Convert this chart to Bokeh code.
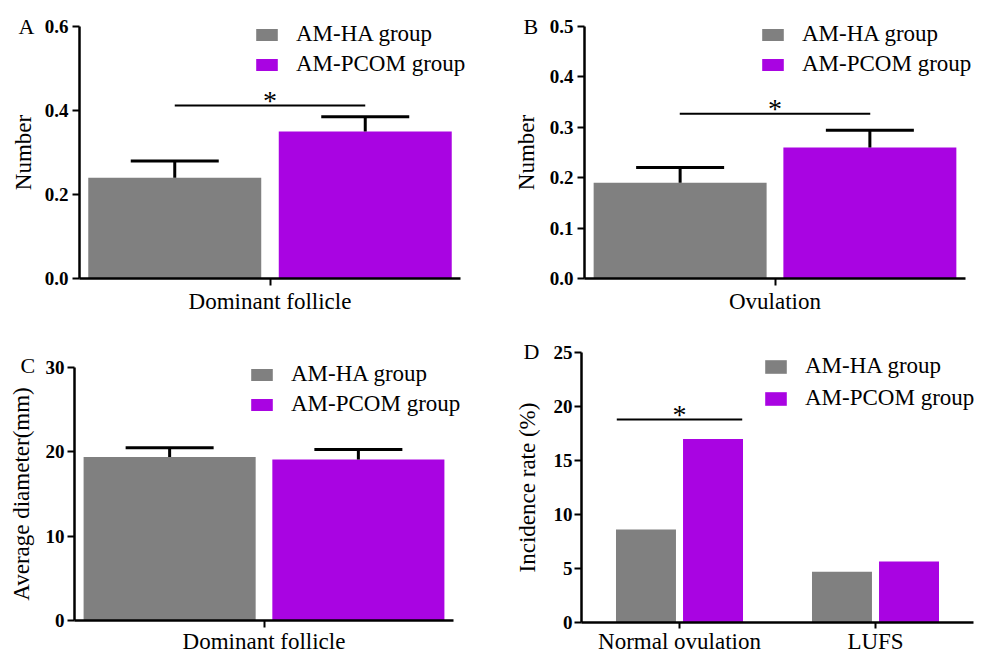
from bokeh.plotting import figure
from bokeh.models import (ColumnDataSource, Range1d, Whisker, TeeHead,
                          Label, Legend, LegendItem, FixedTicker, PrintfTickFormatter)
from bokeh.layouts import row, column
from bokeh.embed import file_html
from bokeh.resources import INLINE
from bokeh.core.properties import value

# ---------------- data ----------------
GROUPS = ["AM-HA group", "AM-PCOM group"]
COLORS = ["#808080", "#A904E2"]

# Panel A
a_cats = ["Dominant follicle"]
a_ha = [0.24]
a_pcom = [0.35]
a_ha_err = [0.04]
a_pcom_err = [0.035]
a_sig = [0.412]
a_ticks = [0.0, 0.2, 0.4, 0.6]

# Panel B
b_cats = ["Ovulation"]
b_ha = [0.19]
b_pcom = [0.26]
b_ha_err = [0.03]
b_pcom_err = [0.034]
b_sig = [0.327]
b_ticks = [0.0, 0.1, 0.2, 0.3, 0.4, 0.5]

# Panel C
c_cats = ["Dominant follicle"]
c_ha = [19.4]
c_pcom = [19.1]
c_ha_err = [1.08]
c_pcom_err = [1.18]
c_ticks = [0, 10, 20, 30]

# Panel D
d_cats = ["Normal ovulation", "LUFS"]
d_ha = [8.6, 4.7]
d_pcom = [17.0, 5.65]
d_sig_idx = [0]
d_sig = [18.8]
d_ticks = [0, 5, 10, 15, 20, 25]

FONT = "Liberation Serif, Times New Roman, Times, serif"


def make_panel(cats, ha, pcom, yticks, fmt, ylabel, letter, geom,
               ha_err=None, pcom_err=None, sig_idx=None, sig=None):
    g = geom
    W, H, L, AW, T, FB = g["W"], g["H"], g["L"], g["AW"], g["T"], g["FB"]
    n = len(cats)
    ux = AW / n                        # px per category
    top = yticks[-1]
    uy = (FB - T) / top                # px per y unit
    p = figure(x_range=Range1d(-L / ux, (W - L) / ux),
               y_range=Range1d(-(H - FB) / uy, FB / uy),
               width=W, height=H, output_backend="svg", toolbar_location=None,
               title=None,
               min_border_left=0, min_border_right=0,
               min_border_top=0, min_border_bottom=0)
    p.background_fill_color = "white"
    p.border_fill_color = "white"
    p.outline_line_color = None
    p.grid.visible = False

    off, bw = g["bar_off"], g["bar_w"]
    centers = [i + 0.5 for i in range(n)]
    data = dict(xc=centers, x_ha=[c - off for c in centers],
                x_pcom=[c + off for c in centers], ha=ha, pcom=pcom)
    if ha_err is not None:
        data["ha_up"] = [v + e for v, e in zip(ha, ha_err)]
        data["pcom_up"] = [v + e for v, e in zip(pcom, pcom_err)]
    src = ColumnDataSource(data)

    r1 = p.vbar(x="x_ha", top="ha", bottom=0, width=bw, source=src,
                fill_color=COLORS[0], line_color=None)
    r2 = p.vbar(x="x_pcom", top="pcom", bottom=0, width=bw, source=src,
                fill_color=COLORS[1], line_color=None)

    if ha_err is not None:
        for xcol, lo, up in [("x_ha", "ha", "ha_up"), ("x_pcom", "pcom", "pcom_up")]:
            w = Whisker(source=src, base=xcol, lower=lo, upper=up,
                        line_width=3, line_color="black",
                        upper_head=TeeHead(size=88, line_width=3, line_color="black"),
                        lower_head=None, level="overlay")
            p.add_layout(w)

    if sig is not None:
        sh = g["sig_half"]
        sc = [centers[i] for i in sig_idx]
        ssrc = ColumnDataSource(dict(x=sc, x0=[c - sh for c in sc],
                                     x1=[c + sh for c in sc], y=sig))
        p.segment(x0="x0", x1="x1", y0="y", y1="y", line_width=2,
                  line_color="black", source=ssrc)
        p.text(x="x", y="y", text=value("*"), source=ssrc, y_offset=-5,
               text_font=value(FONT), text_font_size=value("28px"),
               text_align="center", text_baseline="middle", text_color="black")

    # ---- axes ----
    xa, ya = p.xaxis[0], p.yaxis[0]
    for ax in (xa, ya):
        ax.axis_line_width = 2.5
        ax.axis_line_color = "black"
        ax.major_tick_line_width = 2
        ax.major_tick_line_color = "black"
        ax.major_tick_in = 0
        ax.minor_tick_line_color = None
        ax.major_label_text_color = "black"
        ax.major_label_text_font = FONT
    xa.fixed_location = 0
    xa.bounds = (0, n)
    xa.ticker = FixedTicker(ticks=centers)
    xa.major_label_overrides = {c: lab for c, lab in zip(centers, cats)}
    xa.major_tick_out = g["xtick_out"]
    xa.major_label_standoff = g["xtick_standoff"]
    xa.major_label_text_font_size = "23px"
    xa.major_label_text_font_style = "normal"

    ya.fixed_location = 0
    ya.bounds = (0, top)
    ya.ticker = FixedTicker(ticks=yticks)
    ya.formatter = PrintfTickFormatter(format=fmt)
    ya.major_tick_out = 7
    ya.major_label_standoff = g["ytick_standoff"]
    ya.major_label_text_font_size = "19px"
    ya.major_label_text_font_style = "bold"
    ya.axis_label = ylabel
    ya.axis_label_text_font = FONT
    ya.axis_label_text_font_size = "23px"
    ya.axis_label_text_font_style = "normal"
    ya.axis_label_text_color = "black"
    ya.axis_label_standoff = g["ylab_standoff"]

    legend = Legend(items=[LegendItem(label=GROUPS[0], renderers=[r1]),
                           LegendItem(label=GROUPS[1], renderers=[r2])],
                    location=(g["leg_x"], H - g["leg_bottom"]),
                    border_line_color=None, background_fill_alpha=0,
                    padding=0, margin=0, spacing=g["leg_sp"],
                    glyph_width=27, glyph_height=g["leg_gh"], label_standoff=16,
                    label_text_font=FONT, label_text_font_size="23px",
                    label_text_color="black")
    p.add_layout(legend)

    p.add_layout(Label(x=g["let_x"], y=H - g["let_cy"], x_units="screen",
                       y_units="screen", text=letter, text_font=FONT,
                       text_font_size="22px", text_baseline="middle",
                       text_align="left", text_color="black"))
    return p


# pixel geometry of each panel (figure-relative, from top-left)
gA = dict(W=490, H=320, L=79, AW=381, T=26, FB=278, bar_off=0.25, bar_w=0.454,
          sig_half=0.25, xtick_out=7, xtick_standoff=3,
          ytick_standoff=4, ylab_standoff=6, leg_x=253, leg_bottom=77, leg_sp=4,
          leg_gh=15, let_x=18, let_cy=25.5)
gB = dict(W=496, H=320, L=94, AW=381, T=26, FB=278, bar_off=0.249, bar_w=0.454,
          sig_half=0.25, xtick_out=7, xtick_standoff=3,
          ytick_standoff=4, ylab_standoff=8, leg_x=269, leg_bottom=77, leg_sp=4,
          leg_gh=15, let_x=33, let_cy=25.5)
gC = dict(W=490, H=334, L=74, AW=379, T=47, FB=300, bar_off=0.249, bar_w=0.454,
          sig_half=0.25, xtick_out=7, xtick_standoff=1,
          ytick_standoff=3, ylab_standoff=9, leg_x=248, leg_bottom=97, leg_sp=4,
          leg_gh=15, let_x=20, let_cy=45)
gD = dict(W=496, H=334, L=91, AW=392, T=32, FB=302, bar_off=0.171, bar_w=0.306,
          sig_half=0.32, xtick_out=6, xtick_standoff=0,
          ytick_standoff=2, ylab_standoff=11, leg_x=272, leg_bottom=91, leg_sp=6,
          leg_gh=17, let_x=33, let_cy=30.5)

pA = make_panel(a_cats, a_ha, a_pcom, a_ticks, "%.1f", "Number", "A", gA,
                ha_err=a_ha_err, pcom_err=a_pcom_err, sig_idx=[0], sig=a_sig)
pB = make_panel(b_cats, b_ha, b_pcom, b_ticks, "%.1f", "Number", "B", gB,
                ha_err=b_ha_err, pcom_err=b_pcom_err, sig_idx=[0], sig=b_sig)
pC = make_panel(c_cats, c_ha, c_pcom, c_ticks, "%d", "Average diameter(mm)", "C", gC,
                ha_err=c_ha_err, pcom_err=c_pcom_err)
pD = make_panel(d_cats, d_ha, d_pcom, d_ticks, "%d", "Incidence rate (%)", "D", gD,
                sig_idx=d_sig_idx, sig=d_sig)

layout = column(row(pA, pB), row(pC, pD))
open("out.html", "w").write(file_html(layout, INLINE))
